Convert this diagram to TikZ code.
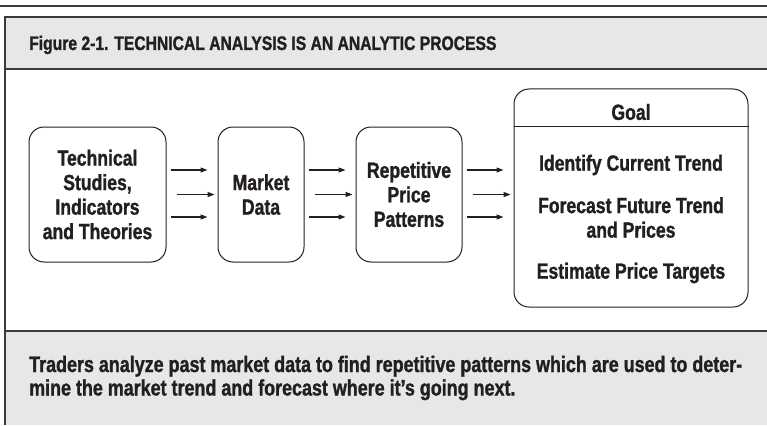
\documentclass[tikz,border=0pt]{standalone}
\usepackage{fontspec}
\setmainfont{Liberation Sans}[FakeStretch=0.8, BoldFeatures={FakeBold=1.2}]
\usetikzlibrary{arrows.meta}
\definecolor{panel}{HTML}{E6E7E8}
\definecolor{ink}{HTML}{231F20}
\definecolor{rule}{HTML}{3A3A3A}
\tikzset{
  frame/.style={draw=rule, line width=1.3pt},
  stepbox/.style={draw=ink, line width=1pt, rounded corners=15pt, align=center,
    font=\fontsize{22}{24.5}\selectfont\bfseries, text=ink, inner sep=0pt},
  goaltxt/.style={font=\fontsize{22}{24.5}\selectfont\bfseries, text=ink, align=center, inner sep=0pt},
  arr/.style={draw=ink, line width=1.1pt, -{Triangle[length=7pt,width=5pt]}},
}
\begin{document}
\begin{tikzpicture}[x=1pt,y=-1pt]
\useasboundingbox (0,0) rectangle (767,425);
% frame
\fill[panel] (5,17) rectangle (767,69);
\fill[panel] (5,331) rectangle (767,425);
\draw[rule, line width=1.5pt] (0,6) -- (767,6);
\draw[frame] (767,17) -- (5,17) -- (5,425);
\draw[frame] (5,69) -- (767,69);
\draw[frame] (5,331) -- (767,331);
% title
\node[anchor=base west, inner sep=0pt, text=ink, font=\fontsize{19.6}{22}\selectfont\bfseries] (title) at (29,50) {Figure 2-1. TECHNICAL ANALYSIS IS AN ANALYTIC PROCESS};
% boxes
\node[stepbox, minimum width=137pt, minimum height=135pt] (b1) at (97.5,194.5) {Technical\\Studies,\\Indicators\\and Theories};
\node[stepbox, minimum width=86pt, minimum height=135pt] (b2) at (261,194.5) {Market\\Data};
\node[stepbox, minimum width=106pt, minimum height=135pt] (b3) at (409,194.5) {Repetitive\\Price\\Patterns};
\node[draw=ink, line width=1pt, rounded corners=15pt, minimum width=234pt, minimum height=218pt, inner sep=0pt] (goal) at (631,198) {};
\draw[ink, line width=1pt] (goal.west |- 0,126) coordinate (gl) -- (goal.east |- 0,126) coordinate (gr);
\node[goaltxt] (g0) at (631,112) {Goal};
\node[goaltxt] (g1) at (631,165) {Identify Current Trend};
\node[goaltxt] (g2) at (631,217.5) {Forecast Future Trend\\and Prices};
\node[goaltxt] (g3) at (631,273) {Estimate Price Targets};
% arrows
\foreach \s/\a/\b in {24.5/4/10, 0/10/3, -22.5/4/10}{
  \draw[arr] ([xshift=\a pt, yshift=\s pt]b1.east) -- ([xshift=-\b pt, yshift=\s pt]b2.west);
  \draw[arr] ([xshift=\a pt, yshift=\s pt]b2.east) -- ([xshift=-\b pt, yshift=\s pt]b3.west);
  \path ([xshift=\a pt, yshift=\s pt]b3.east) coordinate (s);
  \draw[arr] (s) -- ([xshift=-\b pt]s -| goal.west);
}
% footer
\node[anchor=base west, inner sep=0pt, align=left, text=ink, font=\fontsize{22.4}{23.5}\selectfont\bfseries] (foot) at (29,395.5) {Traders analyze past market data to find repetitive patterns which are used to deter-\\mine the market trend and forecast where it’s going next.};
\end{tikzpicture}
\end{document}
